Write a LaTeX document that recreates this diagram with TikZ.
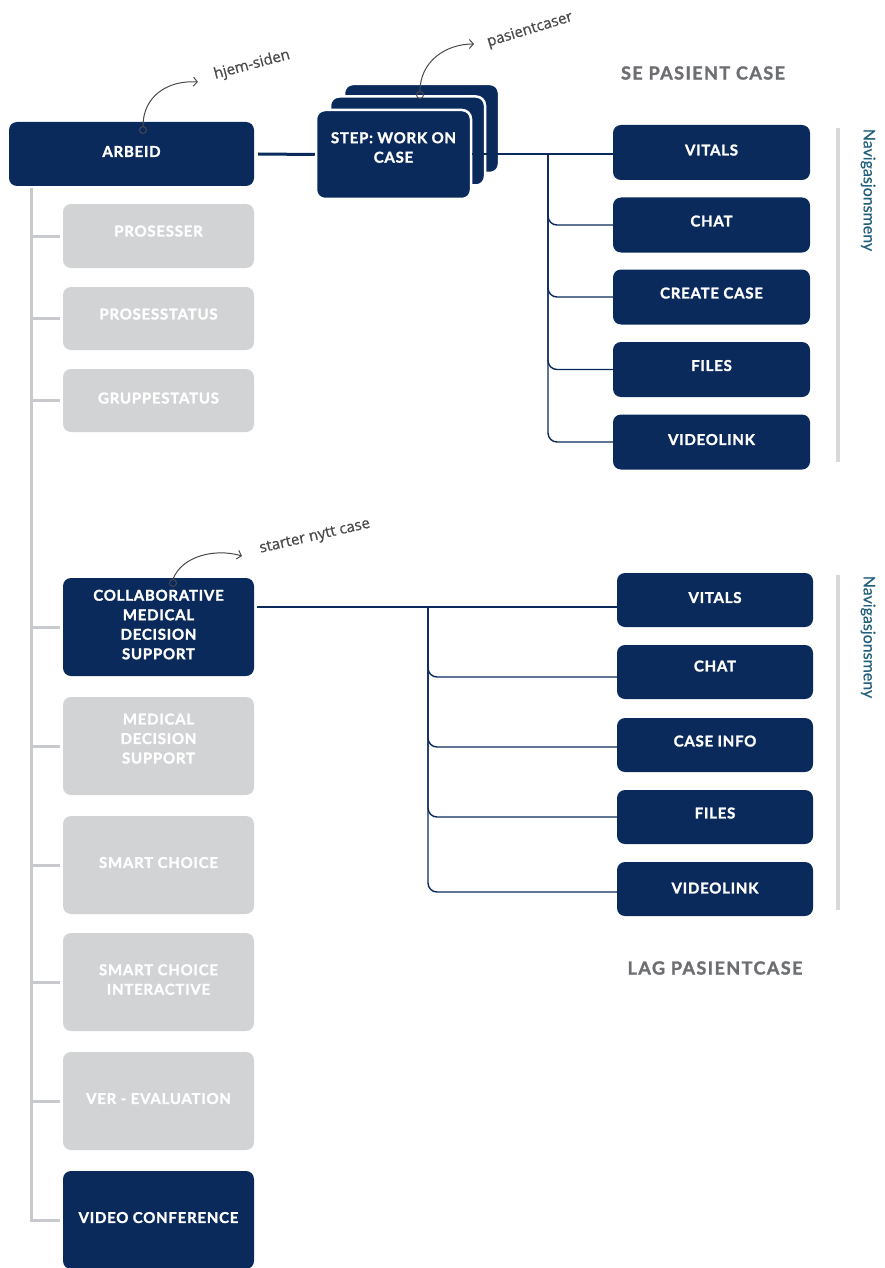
\documentclass[tikz,border=0pt]{standalone}
\usepackage{fontspec}
\setmainfont{Lato}
\newfontfamily\boxfont{Lato}[LetterSpace=5, BoldFeatures={FakeBold=1.6}]
\newfontfamily\headfont{Lato}[LetterSpace=8, BoldFeatures={FakeBold=1.6}]
\newfontfamily\notefont{Open Sans}[FakeBold=0.8]
\newfontfamily\navfont{Lato}[FakeBold=0.4]
\usetikzlibrary{arrows.meta}
\definecolor{navy}{HTML}{0B2A5C}
\definecolor{boxgray}{HTML}{D2D3D5}
\definecolor{treegray}{HTML}{C8C9CC}
\definecolor{headgray}{HTML}{6D6E71}
\definecolor{notegray}{HTML}{4A4A4C}
\definecolor{teal}{HTML}{215F7C}
\definecolor{hatch}{HTML}{D9D9D9}
\begin{document}
\begin{tikzpicture}[x=1pt,y=-1pt,
  navybox/.style={fill=navy, rounded corners=8pt, inner sep=0pt, text=white,
    font=\boxfont\bfseries\fontsize{15}{19.5}\selectfont, align=center, text depth=5pt},
  graybox/.style={navybox, fill=boxgray},
  sidebox/.style={navybox, minimum width=191pt},
  menubox/.style={navybox, minimum width=197pt, minimum height=55pt},
  stackbox/.style={fill=navy, draw=white, line width=2.5pt, rounded corners=9pt,
    minimum width=155pt, minimum height=89pt, inner sep=0pt},
  conn/.style={draw=navy, line width=1.4pt},
  branch/.style={conn, rounded corners=9pt},
  tree/.style={draw=treegray, line width=3pt},
  heading/.style={text=headgray, font=\headfont\bfseries\fontsize{18}{22}\selectfont},
  navlabel/.style={text=teal, font=\navfont\fontsize{16}{19}\selectfont, rotate=-90},
  note/.style={text=notegray, font=\notefont\fontsize{15}{18}\selectfont},
  pin/.style={circle, draw=notegray, line width=0.9pt, minimum size=7pt, inner sep=0pt},
  notearrow/.style={draw=notegray, line width=1pt, -{Straight Barb[length=4pt,width=9pt]}}
]
\useasboundingbox (0,0) rectangle (885,1268);

% --- main column ---
\node[navybox, minimum width=245pt, minimum height=64pt] (arbeid) at (131.5,154) {ARBEID};
\node[sidebox, graybox, minimum height=64pt, text depth=10pt] (prosesser) at (158.5,236) {PROSESSER};
\node[sidebox, graybox, minimum height=63pt, text depth=9pt] (prosesstatus) at (158.5,318.5) {PROSESSTATUS};
\node[sidebox, graybox, minimum height=63pt] (gruppestatus) at (158.5,400.5) {GRUPPESTATUS};
\node[sidebox, minimum height=98pt] (collab) at (158.5,627) {COLLABORATIVE\\MEDICAL\\DECISION\\SUPPORT};
\node[sidebox, graybox, minimum height=98pt, text depth=15pt] (mds) at (158.5,746) {MEDICAL\\DECISION\\SUPPORT};
\node[sidebox, graybox, minimum height=98pt] (smart) at (158.5,865) {SMART CHOICE};
\node[sidebox, graybox, minimum height=98pt] (smarti) at (158.5,982) {SMART CHOICE\\INTERACTIVE};
\node[sidebox, graybox, minimum height=98pt] (ver) at (158.5,1101) {VER - EVALUATION};
\node[sidebox, minimum height=98pt] (video) at (158.5,1220) {VIDEO CONFERENCE};

% --- tree spine ---
\coordinate (spine) at (31,188);
\draw[tree] (spine) |- ([xshift=-3pt]video.west);
\foreach \n in {prosesser,prosesstatus,gruppestatus,collab,mds,smart,smarti,ver}
  \draw[tree] (spine |- \n.west) -- ([xshift=-3pt]\n.west);

% --- stacked step cards ---
\node[stackbox] (stepback) at (421.5,128.5) {};
\node[stackbox] (stepmid) at (407.5,141) {};
\node[stackbox] (step) at (393.5,154.5) {};
\node[text=white, font=\boxfont\bfseries\fontsize{15}{19.5}\selectfont, align=center]
  (steplabel) at ([yshift=7pt]step.center) {STEP: WORK ON\\CASE};
\draw[navy, line width=3pt] ([xshift=4pt]arbeid.east) -- (step.west);

% --- upper navigation menu ---
\node[heading] (sehead) at (703,73) {SE PASIENT CASE};
\node[menubox] (vitalsA) at (711.5,152.5) {VITALS};
\node[menubox, text depth=8pt] (chatA) at (711.5,225) {CHAT};
\node[menubox, text depth=8pt] (createA) at (711.5,297) {CREATE CASE};
\node[menubox, text depth=8pt] (filesA) at (711.5,369.5) {FILES};
\node[menubox] (videoA) at (711.5,442) {VIDEOLINK};
\coordinate (forkA) at (548,154);
\draw[conn] (step.east |- forkA) -- (vitalsA.west |- forkA);
\foreach \n in {chatA,createA,filesA,videoA}
  \draw[branch] (forkA) |- (\n.west);
\fill[hatch] (836,128) rectangle (840,462);
\node[navlabel] (navA) at (868,190) {Navigasjonsmeny};

% --- lower navigation menu ---
\node[heading] (laghead) at (715,968) {LAG PASIENTCASE};
\node[menubox, minimum width=196pt, minimum height=54pt] (vitalsB) at (715,600) {VITALS};
\node[menubox, minimum width=196pt, minimum height=54pt, text depth=12pt] (chatB) at (715,672) {CHAT};
\node[menubox, minimum width=196pt, minimum height=54pt, text depth=8pt] (caseB) at (715,745) {CASE INFO};
\node[menubox, minimum width=196pt, minimum height=54pt, text depth=8pt] (filesB) at (715,817) {FILES};
\node[menubox, minimum width=196pt, minimum height=54pt, text depth=2pt] (videoB) at (715,889) {VIDEOLINK};
\coordinate (forkB) at (428,607);
\draw[conn] ([xshift=3pt]collab.east |- forkB) -- (vitalsB.west |- forkB);
\draw[branch] (forkB) |- ([yshift=-5pt]chatB.west);
\draw[branch] (forkB) |- ([yshift=-2pt]caseB.west);
\draw[branch] (forkB) |- (filesB.west);
\draw[branch] (forkB) |- ([yshift=-3pt]videoB.west);
\fill[hatch] (836,575) rectangle (840,910);
\node[navlabel] (navB) at (868,637) {Navigasjonsmeny};

% --- hand-drawn notes ---
\node[pin] (pinA) at (143,130) {};
\coordinate (tipA) at (198,82);
\draw[notearrow] (pinA.north) .. controls (143,96) and (168,80) .. (tipA);
\node[note, rotate=15] (noteA) at (252,65) {hjem-siden};

\node[pin] (pinB) at (420,95) {};
\coordinate (tipB) at (474,44);
\draw[notearrow] (pinB.north) .. controls (420,62) and (445,44) .. (tipB);
\node[note, rotate=17] (noteB) at (530,30) {pasientcaser};

\node[pin] (pinC) at (173,583) {};
\coordinate (tipC) at (242,556);
\draw[notearrow] (pinC.north) .. controls (182,556) and (215,548) .. (tipC);
\node[note, rotate=13] (noteC) at (315,537) {starter nytt case};
\end{tikzpicture}
\end{document}
